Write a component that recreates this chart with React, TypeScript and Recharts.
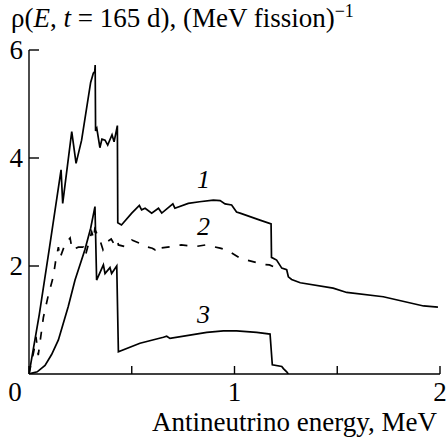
import { Line, LineChart, XAxis, YAxis } from "recharts";

// curve 1: total spectrum
const energy1 = [0, 0.05, 0.1, 0.156, 0.164, 0.208, 0.229, 0.256, 0.3, 0.313, 0.32, 0.322, 0.324, 0.33, 0.345, 0.355, 0.37, 0.383, 0.404, 0.414, 0.43, 0.432, 0.45, 0.5, 0.537, 0.548, 0.565, 0.597, 0.63, 0.646, 0.7, 0.71, 0.775, 0.83, 0.897, 0.93, 0.954, 0.986, 1.01, 1.027, 1.124, 1.178, 1.18, 1.205, 1.23, 1.254, 1.262, 1.278, 1.32, 1.48, 1.546, 1.724, 1.92, 1.99];
const rho1 = [0, 1.1, 2.35, 3.78, 3.16, 4.49, 3.9, 4.33, 5.4, 5.57, 5.6, 5.72, 4.5, 4.55, 4.19, 4.35, 4.33, 4.24, 4.43, 4.3, 4.6, 2.8, 2.76, 2.98, 3.12, 3.04, 3.07, 2.98, 3.07, 2.98, 3.15, 3.07, 3.16, 3.19, 3.22, 3.21, 3.15, 3.13, 3.0, 2.98, 2.85, 2.78, 2.16, 2.11, 1.96, 1.93, 1.8, 1.75, 1.69, 1.59, 1.51, 1.43, 1.26, 1.24];

// curve 2: dashed
const energy2 = [0, 0.025, 0.034, 0.045, 0.054, 0.07, 0.094, 0.118, 0.13, 0.143, 0.151, 0.175, 0.2, 0.21, 0.24, 0.265, 0.275, 0.305, 0.315, 0.32, 0.33, 0.345, 0.36, 0.38, 0.4, 0.415, 0.43, 0.435, 0.467, 0.5, 0.54, 0.565, 0.6, 0.613, 0.625, 0.637, 0.7, 0.74, 0.81, 0.86, 0.93, 0.96, 1.03, 1.06, 1.14, 1.17, 1.2];
const rho2 = [0, 0.45, 0.69, 0.35, 0.6, 1.05, 1.46, 1.8, 2.1, 2.35, 2.15, 2.4, 2.52, 2.3, 2.35, 2.35, 2.2, 2.63, 2.5, 2.68, 2.6, 2.48, 2.3, 2.45, 2.5, 2.4, 2.48, 2.39, 2.36, 2.48, 2.42, 2.36, 2.33, 2.3, 2.38, 2.33, 2.36, 2.39, 2.36, 2.39, 2.33, 2.3, 2.14, 2.11, 2.03, 2.02, 1.97];

// curve 3
const energy3 = [0, 0.04, 0.078, 0.11, 0.143, 0.191, 0.224, 0.272, 0.3, 0.321, 0.329, 0.362, 0.37, 0.394, 0.402, 0.427, 0.435, 0.54, 0.654, 0.67, 0.686, 0.783, 0.865, 0.946, 1.01, 1.108, 1.173, 1.184, 1.23, 1.238, 1.254, 1.262];
const rho3 = [0, 0.04, 0.16, 0.36, 0.63, 1.25, 1.74, 2.3, 2.7, 3.1, 1.74, 2.02, 1.86, 1.97, 1.86, 2.0, 0.41, 0.57, 0.68, 0.7, 0.66, 0.72, 0.77, 0.8, 0.8, 0.77, 0.74, 0.17, 0.14, 0.1, 0.04, 0];

const xTicks = [0, 0.5, 1, 1.5, 2];
const yTicks = [2, 4, 6];

const curve1 = energy1.map((e, i) => ({ e, rho: rho1[i] }));
const curve2 = energy2.map((e, i) => ({ e, rho: rho2[i] }));
const curve3 = energy3.map((e, i) => ({ e, rho: rho3[i] }));

const font = '"Liberation Serif", "Times New Roman", serif';

const XTick = ({ x, y, payload }: any) => {
  if (payload.value % 1 !== 0) return <g />;
  return (
    <text x={payload.value === 0 ? x - 14 : x} y={y} dy={35} textAnchor="middle" fontFamily={font} fontSize={27} fill="#000">
      {payload.value}
    </text>
  );
};

const YTick = ({ x, y, payload }: any) => (
  <text x={x - 16} y={y} dy={9} textAnchor="end" fontFamily={font} fontSize={27} fill="#000">
    {payload.value}
  </text>
);

const abs = (pos: any, extra: any = {}) => ({
  position: "absolute" as const,
  ...pos,
  fontFamily: font,
  fontSize: 27,
  lineHeight: "22px",
  whiteSpace: "nowrap" as const,
  color: "#000",
  ...extra,
});

export default function App() {
  return (
    <div style={{ position: "absolute", left: 0, top: 0, width: 447, height: 439, background: "#fff" }}>
      <LineChart width={447} height={439} margin={{ top: 50, right: 7, left: 0, bottom: 0 }}>
        <XAxis
          type="number"
          dataKey="e"
          domain={[0, 2]}
          ticks={xTicks}
          interval={0}
          height={65}
          tickSize={-8}
          tickMargin={0}
          tick={<XTick />}
          stroke="#000"
          strokeWidth={1.4}
          allowDataOverflow
        />
        <YAxis
          type="number"
          domain={[0, 6]}
          ticks={yTicks}
          interval={0}
          width={29}
          tickSize={-10}
          tickMargin={0}
          tick={<YTick />}
          stroke="#000"
          strokeWidth={1.4}
          allowDataOverflow
        />
        <Line data={curve3} dataKey="rho" type="linear" stroke="#000" strokeWidth={1.7} dot={false} isAnimationActive={false} />
        <Line data={curve2} dataKey="rho" type="linear" stroke="#000" strokeWidth={1.7} strokeDasharray="8 10" dot={false} isAnimationActive={false} />
        <Line data={curve1} dataKey="rho" type="linear" stroke="#000" strokeWidth={1.7} dot={false} isAnimationActive={false} />
      </LineChart>
      <div style={abs({ left: 11, top: 7 })}>
        ρ(<i>E</i>, <i>t</i> = 165 d), (MeV fission)
        <span style={{ fontSize: 18, lineHeight: 0, verticalAlign: 10 }}>−1</span>
      </div>
      <div style={abs({ right: 10, top: 411 })}>Antineutrino energy, MeV</div>
      <div style={abs({ left: 197, top: 169 }, { fontStyle: "italic", fontSize: 26 })}>1</div>
      <div style={abs({ left: 197, top: 216 }, { fontStyle: "italic", fontSize: 26 })}>2</div>
      <div style={abs({ left: 197, top: 304 }, { fontStyle: "italic", fontSize: 26 })}>3</div>
    </div>
  );
}
